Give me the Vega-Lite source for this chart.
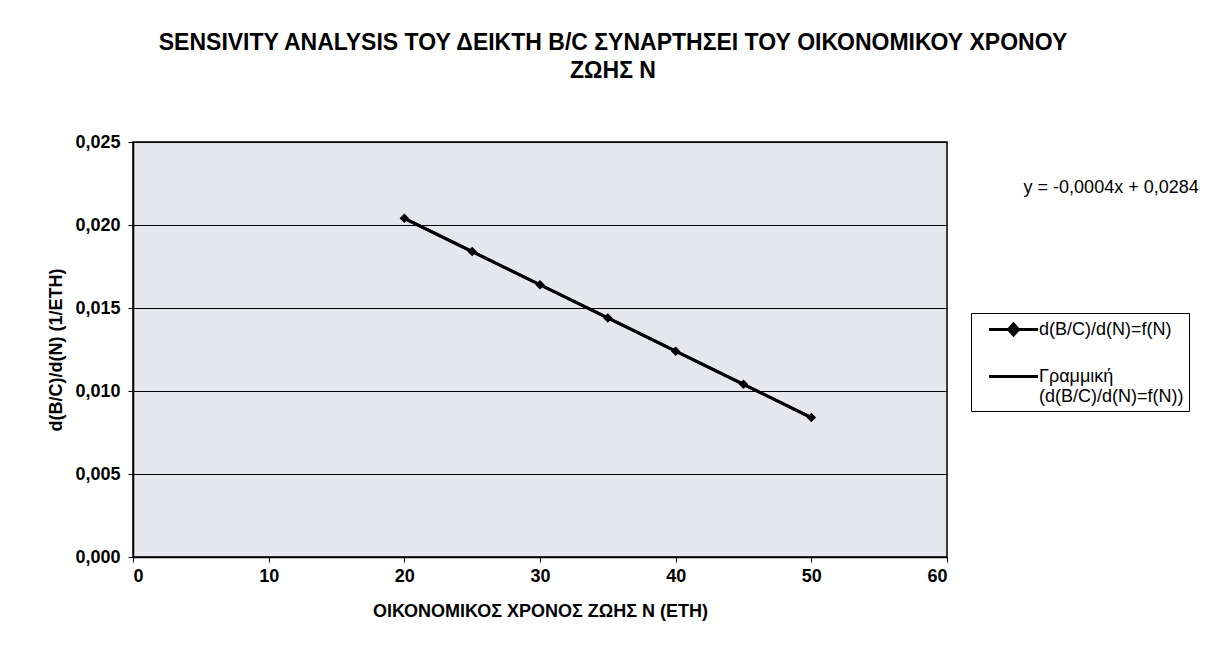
{
  "$schema": "https://vega.github.io/schema/vega-lite/v6.json",
  "width": 814,
  "height": 415,
  "autosize": {"type": "none"},
  "padding": {"left": 133, "top": 142, "right": 265, "bottom": 103},
  "background": "white",
  "title": {
    "text": ["SENSIVITY ANALYSIS ΤΟΥ ΔΕΙΚΤΗ Β/C ΣΥΝΑΡΤΗΣΕΙ ΤΟΥ ΟΙΚΟΝΟΜΙΚΟΥ ΧΡΟΝΟΥ", "ΖΩΗΣ Ν"],
    "font": "Liberation Sans",
    "fontSize": 23,
    "fontWeight": "bold",
    "color": "black",
    "anchor": "middle",
    "dx": 73,
    "offset": 50,
    "lineHeight": 28
  },
  "datasets": {
    "series": [
      {"N": 20, "v": 0.0204, "s": "data"},
      {"N": 25, "v": 0.0184, "s": "data"},
      {"N": 30, "v": 0.0164, "s": "data"},
      {"N": 35, "v": 0.0144, "s": "data"},
      {"N": 40, "v": 0.0124, "s": "data"},
      {"N": 45, "v": 0.0104, "s": "data"},
      {"N": 50, "v": 0.0084, "s": "data"},
      {"N": 20, "v": 0.0204, "s": "trend"},
      {"N": 50, "v": 0.0084, "s": "trend"}
    ],
    "eq": [{"N": 72.1, "v": 0.0222, "label": "y = -0,0004x + 0,0284"}]
  },
  "encoding": {
    "x": {
      "field": "N",
      "type": "quantitative",
      "scale": {"domain": [0, 60], "nice": false},
      "axis": {"values": [0, 10, 20, 30, 40, 50, 60], "title": "ΟΙΚΟΝΟΜΙΚΟΣ ΧΡΟΝΟΣ ΖΩΗΣ Ν (ΕΤΗ)", "grid": false, "labelPadding": 5, "titlePadding": 17}
    },
    "y": {
      "field": "v",
      "type": "quantitative",
      "scale": {"domain": [0, 0.025], "nice": false, "zero": false},
      "axis": {
        "values": [0, 0.005, 0.01, 0.015, 0.02, 0.025],
        "labelExpr": "replace(format(datum.value, '.3f'), '.', ',')",
        "title": "d(B/C)/d(N) (1/ΕΤΗ)",
        "grid": true,
        "gridColor": "black",
        "gridOpacity": 1,
        "gridWidth": 1,
        "labelPadding": 8,
        "titlePadding": 9
      }
    }
  },
  "layer": [
    {
      "data": {"name": "series"},
      "mark": {"type": "line", "strokeWidth": 3},
      "encoding": {
        "color": {
          "field": "s",
          "type": "nominal",
          "scale": {"domain": ["data", "trend"], "range": ["black", "black"]},
          "legend": {
            "title": null,
            "orient": "none",
            "legendX": 838,
            "legendY": 171,
            "strokeColor": "black",
            "padding": 5,
            "labelFont": "Liberation Sans",
            "labelFontSize": 18,
            "labelColor": "black",
            "labelLimit": 400,
            "labelOffset": 14,
            "symbolOffset": 26,
            "symbolSize": 400,
            "rowPadding": 24,
            "labelExpr": "datum.value == 'data' ? 'd(B/C)/d(N)=f(N)' : ['Γραμμική', '(d(B/C)/d(N)=f(N))']",
            "encode": {
              "symbols": {
                "update": {
                  "shape": {"signal": "datum.value == 'data' ? 'M-2.45,0L2.45,0M0,-0.55L0.5,0L0,0.55L-0.5,0Z' : 'M-2.45,0L2.45,0'"},
                  "fill": {"value": "black"},
                  "stroke": {"value": "black"},
                  "strokeWidth": {"value": 3}
                }
              }
            }
          }
        }
      }
    },
    {
      "data": {"name": "series"},
      "transform": [{"filter": "datum.s == 'data'"}],
      "mark": {"type": "point", "shape": "diamond", "filled": true, "color": "black", "size": 90, "opacity": 1}
    },
    {
      "data": {"name": "eq"},
      "mark": {"type": "text", "font": "Liberation Sans", "fontSize": 18, "color": "black"},
      "encoding": {"text": {"field": "label", "type": "nominal"}}
    }
  ],
  "config": {
    "view": {"fill": "#e5e7ec", "stroke": "black", "strokeWidth": 1.5},
    "axis": {
      "domainColor": "black",
      "domainWidth": 1.5,
      "tickColor": "black",
      "tickSize": 5,
      "labelFont": "Liberation Sans",
      "labelFontSize": 18,
      "labelFontWeight": "bold",
      "labelColor": "black",
      "titleFont": "Liberation Sans",
      "titleFontSize": 18,
      "titleFontWeight": "bold",
      "titleColor": "black"
    }
  }
}
